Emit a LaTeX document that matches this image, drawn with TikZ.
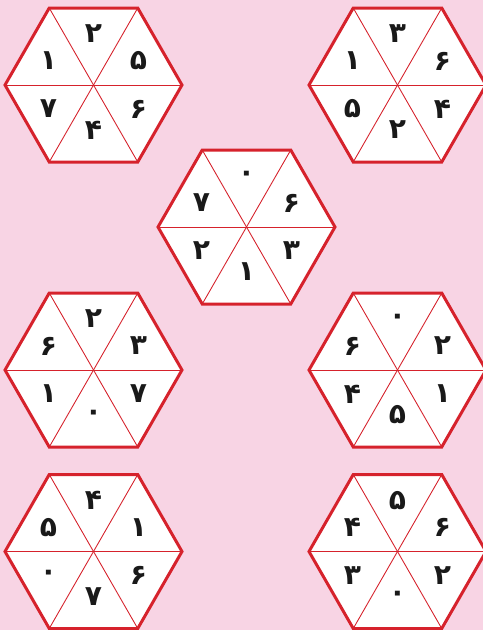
\documentclass[tikz,border=0pt]{standalone}
\usepackage{fontspec}
\newfontfamily\arabicfont[Script=Arabic]{DejaVu Sans}
\TeXXeTstate=1
\definecolor{rosa}{RGB}{248,212,228}
\definecolor{rosso}{RGB}{214,34,44}
\tikzset{
  cifra/.style={font=\arabicfont\bfseries\fontsize{16}{16}\selectfont, text=black!90, inner sep=0pt},
  bordo/.style={rosso, line width=1.7pt, line join=miter},
  raggio/.style={rosso, line width=0.5pt}
}

\begin{document}
\begin{tikzpicture}[x=0.02cm,y=-0.02cm]
  \fill[rosa] (0,0) rectangle (483,630);
  \useasboundingbox (0,0) rectangle (483,630);
  % esagoni: centro, poi cifre (alto, alto-dx, basso-dx, basso, basso-sx, alto-sx)
  \foreach \cx/\cy/\a/\b/\c/\d/\e/\f [count=\i] in {
      93.5/85/۲/۵/۶/۴/۷/۱,
      397.5/85/۳/۶/۴/۲/۵/۱,
      246.5/227/۰/۶/۳/۱/۲/۷,
      93.5/370/۲/۳/۷/۰/۱/۶,
      397.5/370/۰/۲/۱/۵/۴/۶,
      93.5/551.5/۴/۱/۶/۷/۰/۵,
      397.5/551.5/۵/۶/۲/۰/۳/۴}{
    \begin{scope}[shift={(\cx,\cy)}]
      \coordinate (o\i) at (0,0);
      \coordinate (e\i) at (88.5,0);
      \coordinate (se\i) at (44.25,77);
      \coordinate (sw\i) at (-44.25,77);
      \coordinate (w\i) at (-88.5,0);
      \coordinate (nw\i) at (-44.25,-77);
      \coordinate (ne\i) at (44.25,-77);
      \fill[white] (e\i) -- (se\i) -- (sw\i) -- (w\i) -- (nw\i) -- (ne\i) -- cycle;
      % raggi
      \draw[raggio] (e\i) -- (w\i);
      \draw[raggio] (ne\i) -- (sw\i);
      \draw[raggio] (nw\i) -- (se\i);
      \draw[bordo] (e\i) -- (se\i) -- (sw\i) -- (w\i) -- (nw\i) -- (ne\i) -- cycle;
      % cifre
      \node[cifra] (t\i)  at (0,-51)    {\a};
      \node[cifra] (tr\i) at (45,-24)   {\b};
      \node[cifra] (br\i) at (45,24)    {\c};
      \node[cifra] (b\i)  at (0,45)     {\d};
      \node[cifra] (bl\i) at (-45,24)   {\e};
      \node[cifra] (tl\i) at (-45,-24)  {\f};
    \end{scope}
  }
\end{tikzpicture}
\end{document}
